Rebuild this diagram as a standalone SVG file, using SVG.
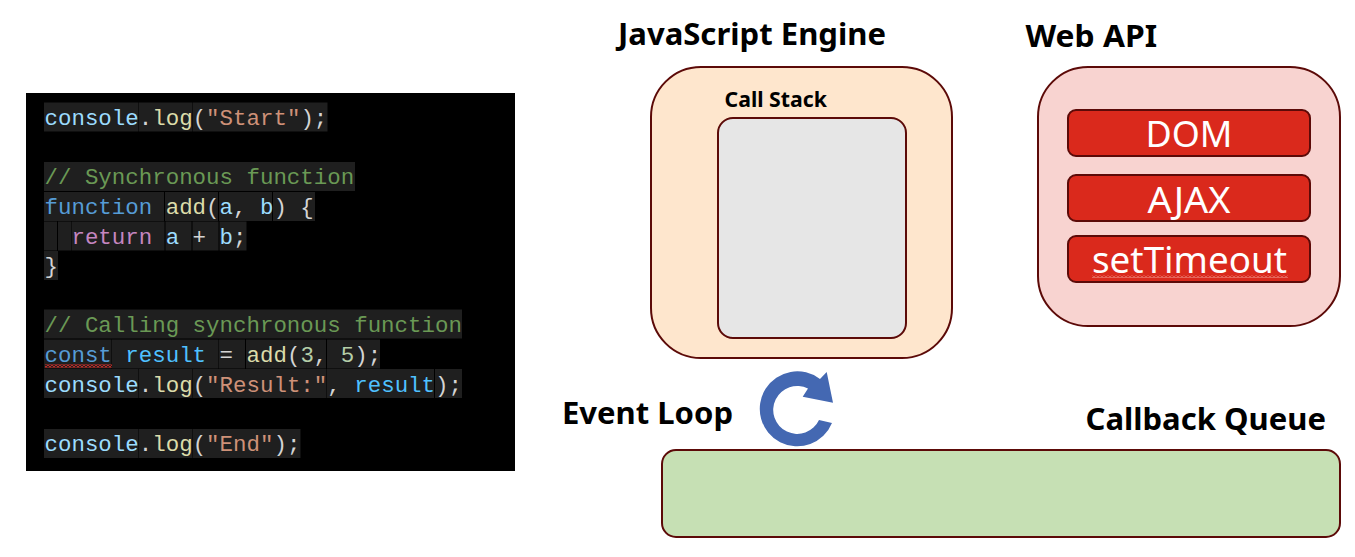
<svg xmlns="http://www.w3.org/2000/svg" width="1355" height="557" viewBox="0 0 1355 557">
<style>
.code{font-family:"Liberation Mono","DejaVu Sans Mono",monospace;font-size:22.45px;fill:#d4d4d4;white-space:pre}
.tok{fill:#1f1f1f}
.c{fill:#9cdcfe}.f{fill:#dcdcaa}.s{fill:#ce9178}.g{fill:#6a9955}.k{fill:#569cd6}.r{fill:#c586c0}.v{fill:#4fc1ff}.n{fill:#b5cea8}
.box{stroke:#5c0a08;stroke-width:2}
.title{font-family:"Noto Sans","Open Sans",sans-serif;font-weight:700;fill:#000}
.api{font-family:"Noto Sans","Open Sans",sans-serif;font-size:37px;fill:#fff;text-anchor:middle}
</style>
<defs>
<pattern id="squiggle" width="4" height="3" patternUnits="userSpaceOnUse">
<path d="M0,2.5 L2,0.5 L4,2.5" fill="none" stroke="#f0302a" stroke-width="1.1"/>
</pattern>
<pattern id="squiggleLight" width="4" height="3" patternUnits="userSpaceOnUse">
<path d="M0,2.5 L2,0.5 L4,2.5" fill="none" stroke="#f3b0a8" stroke-width="0.9"/>
</pattern>
</defs>
<rect width="1355" height="557" fill="#fff"/>
<g id="code-panel">
<rect x="26" y="93" width="489" height="378" fill="#000"/>
<g id="code-backgrounds">
<rect class="tok" x="44" y="102.5" width="94" height="29"/><rect class="tok" x="138.5" y="102.5" width="53.5" height="29"/><rect class="tok" x="192.5" y="102.5" width="135" height="29"/>
<rect class="tok" x="44" y="162" width="311" height="29"/>
<rect class="tok" x="44" y="192" width="120" height="29"/><rect class="tok" x="165" y="192" width="53" height="29"/><rect class="tok" x="219" y="192" width="53" height="29"/><rect class="tok" x="273" y="192" width="42" height="29"/>
<rect class="tok" x="44" y="221.500" width="13" height="29"/><rect class="tok" x="58" y="221.500" width="13" height="29"/><rect class="tok" x="71.500" y="221.500" width="93" height="29"/><rect class="tok" x="165.500" y="221.500" width="26" height="29"/><rect class="tok" x="192.500" y="221.500" width="26" height="29"/><rect class="tok" x="219.500" y="221.500" width="27" height="29"/>
<rect class="tok" x="44" y="251" width="14" height="29"/>
<rect class="tok" x="44" y="309.500" width="418" height="29"/>
<rect class="tok" x="44" y="339.500" width="67" height="29"/><rect class="tok" x="111.500" y="339.500" width="107" height="29"/><rect class="tok" x="219" y="339.500" width="26" height="29"/><rect class="tok" x="246" y="339.500" width="80" height="29"/><rect class="tok" x="327" y="339.500" width="53" height="29"/>
<rect class="tok" x="44" y="369" width="94" height="29"/><rect class="tok" x="138.500" y="369" width="53.500" height="29"/><rect class="tok" x="192.500" y="369" width="134" height="29"/><rect class="tok" x="327" y="369" width="107" height="29"/><rect class="tok" x="435" y="369" width="27" height="29"/>
<rect class="tok" x="44" y="429" width="94" height="29"/><rect class="tok" x="138.500" y="429" width="53.500" height="29"/><rect class="tok" x="192.500" y="429" width="108" height="29"/>
</g>
<text class="code" x="44.500" y="124.500"><tspan class="c">console</tspan>.<tspan class="f">log</tspan>(<tspan class="s">"Start"</tspan>);</text>
<text class="code" x="44.500" y="184"><tspan class="g">// Synchronous function</tspan></text>
<text class="code" x="44.500" y="214"><tspan class="k">function</tspan> <tspan class="f">add</tspan>(<tspan class="c">a</tspan>, <tspan class="c">b</tspan>) {</text>
<text class="code" x="44.500" y="243.500"><tspan class="r">  return</tspan> <tspan class="c">a</tspan> + <tspan class="c">b</tspan>;</text>
<text class="code" x="44.500" y="273">}</text>
<text class="code" x="44.500" y="332"><tspan class="g">// Calling synchronous function</tspan></text>
<text class="code" x="44.500" y="362"><tspan class="k">const</tspan> <tspan class="v">result</tspan> = <tspan class="f">add</tspan>(<tspan class="n">3</tspan>, <tspan class="n">5</tspan>);</text>
<text class="code" x="44.500" y="391.500"><tspan class="c">console</tspan>.<tspan class="f">log</tspan>(<tspan class="s">"Result:"</tspan>, <tspan class="v">result</tspan>);</text>
<text class="code" x="44.500" y="451"><tspan class="c">console</tspan>.<tspan class="f">log</tspan>(<tspan class="s">"End"</tspan>);</text>
<rect x="45" y="364.500" width="67" height="3" fill="url(#squiggle)"/>
</g>
<g id="js-engine">
<text class="title" x="618" y="45" font-size="30" textLength="268" lengthAdjust="spacingAndGlyphs">JavaScript Engine</text>
<rect class="box" x="651" y="67" width="301" height="291" rx="50" fill="#fee6cd"/>
</g>
<g id="call-stack">
<text class="title" x="724.500" y="106.500" font-size="22" textLength="102.500" lengthAdjust="spacingAndGlyphs">Call Stack</text>
<rect class="box" x="718" y="118" width="188" height="220" rx="15" fill="#e6e6e6"/>
</g>
<g id="web-api">
<text class="title" x="1025.500" y="47" font-size="30" textLength="131.500" lengthAdjust="spacingAndGlyphs">Web API</text>
<rect class="box" x="1038" y="67" width="302" height="259" rx="50" fill="#f8d3d0"/>
</g>
<g id="dom">
<rect class="box" x="1068" y="110" width="242" height="46" rx="8" fill="#da291c"/>
<text class="api" x="1189" y="147" textLength="87" lengthAdjust="spacingAndGlyphs">DOM</text>
</g>
<g id="ajax">
<rect class="box" x="1068" y="175" width="242" height="46" rx="8" fill="#da291c"/>
<text class="api" x="1189" y="213" textLength="83" lengthAdjust="spacingAndGlyphs">AJAX</text>
</g>
<g id="settimeout">
<rect class="box" x="1068" y="236" width="242" height="46" rx="8" fill="#da291c"/>
<text class="api" x="1189.500" y="273" textLength="195" lengthAdjust="spacingAndGlyphs">setTimeout</text>
<rect x="1092" y="275" width="196" height="3" fill="url(#squiggleLight)"/>
</g>
<g id="event-loop">
<text class="title" x="562" y="424" font-size="30" textLength="171" lengthAdjust="spacingAndGlyphs">Event Loop</text>
</g>
<g id="callback-queue">
<text class="title" x="1085.500" y="430" font-size="30" textLength="240.500" lengthAdjust="spacingAndGlyphs">Callback Queue</text>
<rect class="box" x="662" y="450" width="678" height="87" rx="14" fill="#c6e0b4"/>
</g>
<g id="connectors">
<path d="M832,423 A37.500 37.500 0 1 1 820,379 L826.700,372 L833,402.700 L802.700,396.700 L808,388.500 A24 24 0 1 0 819,420 Z" fill="#4468b2"/>
</g>
</svg>
